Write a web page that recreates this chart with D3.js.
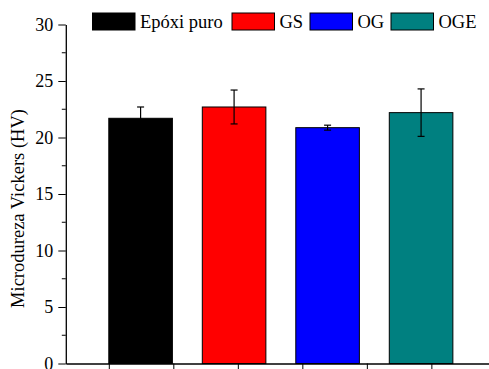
<!DOCTYPE html>
<html>
<head>
<meta charset="utf-8">
<script src="https://cdn.jsdelivr.net/npm/d3@7"></script>
<style>
  body { margin: 0; background: #fff; }
</style>
</head>
<body>
<svg id="chart" width="489" height="369"></svg>
<script>
const categories = ["Epóxi puro", "GS", "OG", "OGE"];
const values = [21.7, 22.7, 20.87, 22.2];
const errors = [1.0, 1.5, 0.22, 2.1];
const colors = ["#000000", "#ff0000", "#0000ff", "#008080"];
const yTicks = [0, 5, 10, 15, 20, 25, 30];
const xTickValues = [0.66, 1.35, 2.04, 2.73, 3.42, 4.11];

const FONT = "'Liberation Serif', 'Times New Roman', serif";

const svg = d3.select("#chart").attr("font-family", FONT);
svg.append("rect").attr("width", 489).attr("height", 369).attr("fill", "#fff");

// bars sit at positions 1..4 on a linear x axis
const x = d3.scaleLinear().domain([0.2, 4.75]).range([65.8, 491.2]);
const y = d3.scaleLinear().domain([0, 30]).range([363.5, 24.5]);
const barW = 0.68;

// bars
svg.selectAll(".bar").data(values).enter().append("rect")
    .attr("class", "bar")
    .attr("x", (d, i) => x(i + 1 - barW / 2))
    .attr("width", x(barW) - x(0))
    .attr("y", d => y(d))
    .attr("height", d => y(0) - y(d))
    .attr("fill", (d, i) => colors[i])
    .attr("stroke", "#000")
    .attr("stroke-width", 1);

// error bars
const err = svg.selectAll(".err").data(values).enter().append("g")
    .attr("class", "err")
    .attr("stroke", "#000")
    .attr("stroke-width", 1.2);
err.append("line")
    .attr("x1", (d, i) => x(i + 1)).attr("x2", (d, i) => x(i + 1))
    .attr("y1", (d, i) => y(d + errors[i])).attr("y2", (d, i) => y(d - errors[i]));
err.append("line")
    .attr("x1", (d, i) => x(i + 1) - 3.5).attr("x2", (d, i) => x(i + 1) + 3.5)
    .attr("y1", (d, i) => y(d + errors[i])).attr("y2", (d, i) => y(d + errors[i]));
err.append("line")
    .attr("x1", (d, i) => x(i + 1) - 3.5).attr("x2", (d, i) => x(i + 1) + 3.5)
    .attr("y1", (d, i) => y(d - errors[i])).attr("y2", (d, i) => y(d - errors[i]));

// y axis
const yAxis = svg.append("g")
    .attr("transform", "translate(" + x(0.2) + ",0)")
    .call(d3.axisLeft(y).tickValues(yTicks).tickSize(7.5).tickPadding(5).tickSizeOuter(0))
    .attr("font-family", FONT)
    .attr("font-size", 18);
yAxis.selectAll("text").attr("fill", "#000");
// minor ticks
yAxis.selectAll(".minor").data(d3.range(2.5, 30, 5)).enter().append("line")
    .attr("class", "minor")
    .attr("x1", -4).attr("x2", 0)
    .attr("y1", d => y(d)).attr("y2", d => y(d))
    .attr("stroke", "#000");

// x axis
svg.append("g")
    .attr("transform", "translate(0," + y(0) + ")")
    .call(d3.axisBottom(x).tickValues(xTickValues).tickFormat("").tickSize(6).tickSizeOuter(0));
svg.selectAll(".domain").attr("stroke-width", 1.3);

// y title
svg.append("text")
    .attr("transform", "translate(24,208.5) rotate(-90)")
    .attr("text-anchor", "middle")
    .attr("font-size", 18.5)
    .attr("fill", "#000")
    .text("Microdureza Vickers (HV)");

// legend
const legendX = [92.5, 232, 310, 391];
const legend = svg.selectAll(".legend").data(categories).enter().append("g")
    .attr("class", "legend")
    .attr("transform", (d, i) => "translate(" + legendX[i] + ",13)");
legend.append("rect")
    .attr("width", 42.5).attr("height", 17)
    .attr("fill", (d, i) => colors[i])
    .attr("stroke", "#000").attr("stroke-width", 1);
legend.append("text")
    .attr("x", 47.5).attr("y", 14.5)
    .attr("font-size", 18.5)
    .attr("fill", "#000")
    .text(d => d);
</script>
</body>
</html>
